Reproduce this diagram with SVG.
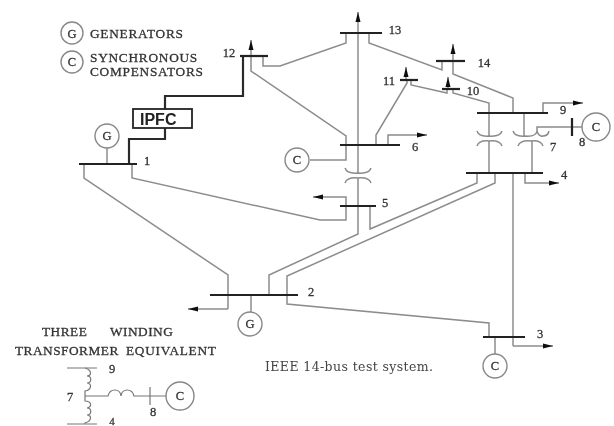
<svg xmlns="http://www.w3.org/2000/svg" width="614" height="426" viewBox="0 0 614 426">
<style>
text{font-family:"Liberation Serif","Times New Roman",serif;font-size:11px;fill:#333}
.num{font-size:12.5px;text-anchor:middle;fill:#333;stroke:#333;stroke-width:.3}
.cap{font-size:13.3px;fill:#333;stroke:#333;stroke-width:.3;letter-spacing:.5px}
.leg{letter-spacing:.75px}
.sym{font-size:12.5px;text-anchor:middle;fill:#333;stroke:#333;stroke-width:.3}
.ln{fill:none;stroke:#8c8c8c;stroke-width:1.5}
.thin{fill:none;stroke:#777;stroke-width:1.2}
.arr{fill:none;stroke:#8c8c8c;stroke-width:1.5;marker-end:url(#ah)}
.thick{fill:none;stroke:#2a2a2a;stroke-width:2.2}
.bus{stroke:#222;stroke-width:2.2;fill:none}
.tbus{stroke:#777;stroke-width:1.2;fill:none}
.circ{fill:#fff;stroke:#888;stroke-width:1.4}
</style>
<defs>
<marker id="ah" markerUnits="userSpaceOnUse" markerWidth="12" markerHeight="8" refX="10" refY="3" orient="auto"><path d="M0 0.5L10 3L0 5.5z" fill="#111"/></marker>
<filter id="soft" x="-5%" y="-5%" width="110%" height="110%"><feGaussianBlur stdDeviation="0.45"/></filter>
</defs>
<rect width="614" height="426" fill="#fff"/>
<g filter="url(#soft)">
<g id="connectors">
<path class="ln" d="M84 164V178L228 275V309"/>
<path class="arr" d="M228 309H188"/>
<path class="ln" d="M132 164V178L320 220H346V206"/>
<path class="arr" d="M346 206V197H313"/>
<path class="ln" d="M269 295V275L358 234V178"/>
<path class="arr" d="M358 173V12"/>
<path class="ln" d="M287 295V276L495 183V173"/>
<path class="ln" d="M370 206V229L477 183V173"/>
<path class="ln" d="M287 295V304L489 323V337"/>
<path class="ln" d="M513 173V346"/>
<path class="arr" d="M513 346H553"/>
<path class="arr" d="M525 173V183H559"/>
<path class="arr" d="M543 113V103H583"/>
<path class="ln" d="M453 89V93L489 103V136"/>
<path class="ln" d="M489 141V173"/>
<path class="ln" d="M524 113V136"/>
<path class="ln" d="M532 141V173"/>
<path class="ln" d="M537 131V127H582"/>
<path class="arr" d="M453 61V44"/>
<path class="ln" d="M453 61V74L513 98V113"/>
<path class="ln" d="M442 61V70L369 43V33"/>
<path class="ln" d="M346 33V43L280 66H263V56"/>
<path class="ln" d="M251 56V71L346 136V160H310"/>
<path class="arr" d="M388 145V135H427"/>
<path class="ln" d="M376 145V135L407 83V80"/>
<path class="arr" d="M406 80V67"/>
<path class="ln" d="M411 80V85L447 93V89"/>
<path class="arr" d="M448 89V77"/>
<path class="arr" d="M251 56V40"/>
<path class="thick" d="M243 56V96H165V109"/>
<path class="thick" d="M165 128V139H129V164"/>
<path class="ln" d="M107 148V164"/>
<path class="ln" d="M251 295V312"/>
<path class="ln" d="M495 337V354"/>
<path class="ln" d="M345 168Q347 174 358 173Q369 174 371 168"/>
<path class="ln" d="M345 183Q347 177 358 178Q369 177 371 183"/>
<path class="ln" d="M477 131Q479 137 489 136Q500 137 502 131"/>
<path class="ln" d="M477 146Q479 140 489 141Q500 140 502 146"/>
<path class="ln" d="M513 131Q515 137 525 136Q536 137 537 131Q539 137 543 136Q548 136 549 131"/>
<path class="ln" d="M518 146Q520 140 531 141Q541 140 543 146"/>
<path class="thin" d="M85 368C92 370 92 376 87 376C92 376 92 383 87 383C92 383 92 390 85 391V396V401C92 401 92 407 87 408C92 408 92 415 87 415C92 415 92 421 85 423V424"/>
<path class="thin" d="M85 396H108C110 388 120 388 121 396C122 388 132 388 134 396H166"/>
</g>
<g id="bus1"><path class="bus" d="M79 164H137"/><text class="num" x="147" y="165">1</text></g>
<g id="bus2"><path class="bus" d="M210 295H298"/><text class="num" x="311" y="296">2</text></g>
<g id="bus3"><path class="bus" d="M483 337H525"/><text class="num" x="540" y="338">3</text></g>
<g id="bus4"><path class="bus" d="M466 173H543"/><text class="num" x="564" y="179">4</text></g>
<g id="bus5"><path class="bus" d="M340 206H376"/><text class="num" x="385" y="207">5</text></g>
<g id="bus6"><path class="bus" d="M340 145H400"/><text class="num" x="415" y="151">6</text></g>
<g id="bus7"><text class="num" x="553" y="151">7</text></g>
<g id="bus8"><path class="bus" d="M572 118V136"/><text class="num" x="582" y="146">8</text></g>
<g id="bus9"><path class="bus" d="M477 113H548"/><text class="num" x="563" y="114">9</text></g>
<g id="bus10"><path class="bus" d="M442 89H460"/><text class="num" x="473" y="95">10</text></g>
<g id="bus11"><path class="bus" d="M400 80H418"/><text class="num" x="389" y="85">11</text></g>
<g id="bus12"><path class="bus" d="M240 56H268"/><text class="num" x="229" y="57">12</text></g>
<g id="bus13"><path class="bus" d="M340 33H382"/><text class="num" x="395" y="34">13</text></g>
<g id="bus14"><path class="bus" d="M436 61H465"/><text class="num" x="484" y="67">14</text></g>
<g id="ipfc"><rect x="133" y="109" width="59" height="19" fill="#fff" stroke="#222" stroke-width="1.8"/><text x="140" y="125" style="font-family:'Liberation Sans',Arial,sans-serif;font-size:16px;font-weight:bold;fill:#222">IPFC</text></g>
<g id="gen1"><circle class="circ" cx="107" cy="136" r="12"/><text class="sym" x="107" y="140">G</text></g>
<g id="gen2"><circle class="circ" cx="250" cy="324" r="12"/><text class="sym" x="250" y="328">G</text></g>
<g id="comp6"><circle class="circ" cx="297" cy="160" r="12"/><text class="sym" x="297" y="164">C</text></g>
<g id="comp3"><circle class="circ" cx="495" cy="366" r="12"/><text class="sym" x="495" y="370">C</text></g>
<g id="comp8"><circle class="circ" cx="596" cy="127" r="14"/><text class="sym" x="596" y="131">C</text></g>
<g id="legend">
<circle class="circ" cx="72" cy="33" r="11"/><text class="sym" x="72" y="38">G</text>
<circle class="circ" cx="72" cy="62" r="11"/><text class="sym" x="72" y="66">C</text>
<text class="cap leg" x="90" y="38">GENERATORS</text>
<text class="cap leg" x="90" y="62">SYNCHRONOUS</text>
<text class="cap leg" x="90" y="76">COMPENSATORS</text>
</g>
<g id="equivalent">
<path class="tbus" d="M67 368H97M67 424H97M150 387V405"/>
<circle class="circ" cx="180" cy="396" r="14"/><text class="sym" x="180" y="400">C</text>
<text class="cap" x="42" y="336">THREE</text>
<text class="cap" x="110" y="336">WINDING</text>
<text class="cap" x="15" y="355">TRANSFORMER</text>
<text class="cap leg" x="126" y="355">EQUIVALENT</text>
<text class="num" x="112" y="373">9</text>
<text class="num" x="70" y="401">7</text>
<text class="num" x="153" y="416">8</text>
<text class="num" x="112" y="425" style="font-size:11px">4</text>
</g>
<g id="caption"><text x="265" y="371" style="font-family:'DejaVu Serif',serif;font-size:12.5px;letter-spacing:.4px;fill:#444">IEEE 14-bus test system.</text></g>
</g>
</svg>
